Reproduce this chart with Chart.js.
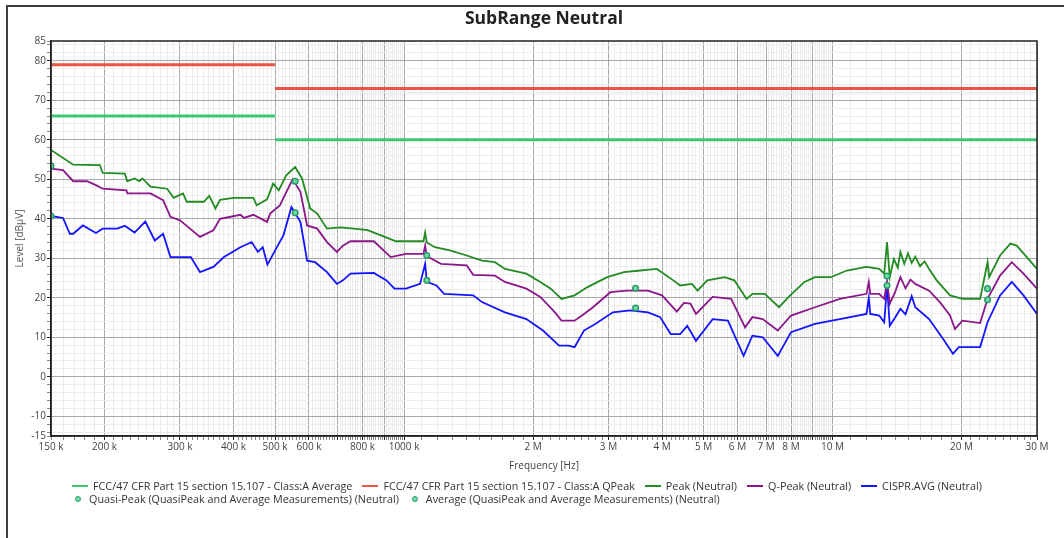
<!DOCTYPE html>
<html>
<head>
<meta charset="utf-8">
<title>SubRange Neutral</title>
<script src="https://cdn.jsdelivr.net/npm/chart.js@4.4.1/dist/chart.umd.min.js"></script>
<style>
  html, body { margin: 0; padding: 0; background: #fff; }
  body { width: 1064px; height: 538px; position: relative; overflow: hidden; font-family: 'Open Sans', sans-serif; }
  #frame { position: absolute; left: 6px; top: 5px; width: 1080px; height: 560px; border-top: 2px solid #3c3c3c; border-left: 2px solid #3c3c3c; }
  #chart { position: absolute; left: 0; top: 0; }
  #legend { position: absolute; left: 72px; top: 479px; width: 960px; display: flex; flex-wrap: wrap; font-size: 10.8px; color: #333; line-height: 13px; }
  .item { display: flex; align-items: center; margin-right: 10px; white-space: nowrap; }
  .swatch { width: 16px; height: 2px; margin-right: 5px; }
  .dot { width: 4px; height: 4px; border-radius: 50%; margin: 0 8px 0 3px; border: 1.5px solid; }
</style>
</head>
<body>
<div id="frame"></div>
<canvas id="chart" width="1064" height="538"></canvas>
<div id="legend"></div>
<script>
// frequencies in kHz, levels in dBµV
const limitAvgFreq = [150, 500, 500, 500, 30000];
const limitAvgLevel = [66, 66, null, 60, 60];
const limitQpFreq = [150, 500, 500, 500, 30000];
const limitQpLevel = [79, 79, null, 73, 73];

const peakFreq = [150,169,195,198,223,226,235,241,245,256,280,290,305,311,341,351,363,372,400,445,453,479,495,510,531,557,578,604,627,661,708,763,822,893,957,1110,1120,1130,1180,1280,1400,1520,1630,1720,1930,2080,2200,2330,2500,2680,2980,3260,3560,3890,4250,4410,4700,4840,5100,5600,5900,6300,6500,6950,7500,7900,8600,9100,9900,10800,12000,12850,13200,13400,13600,13900,14200,14400,14700,15000,15300,15600,16000,16400,16800,17500,18800,20100,22100,23000,23200,24600,26000,26900,28400,30000];
const peakLevel = [57.4,53.7,53.6,51.6,51.4,49.5,50.2,49.5,50.2,48.1,47.6,45.3,46.4,44.3,44.3,45.8,42.6,44.8,45.3,45.3,43.4,44.9,48.9,47.2,51.0,53.1,50.2,42.6,41.3,37.5,37.8,37.5,37.1,35.6,34.3,34.3,36.5,34.0,32.8,32.0,30.7,29.4,29.0,27.3,26.1,24.0,22.3,19.7,20.6,22.7,25.2,26.5,26.9,27.3,24.4,23.1,23.5,21.8,24.4,25.2,24.4,19.7,21.0,21.0,17.6,20.2,24.0,25.2,25.2,26.9,27.8,27.3,26.1,34.1,25.2,29.8,27.6,31.6,28.6,31.2,28.8,30.4,28.0,29.2,27.3,24.4,20.6,19.7,19.7,29.0,25.2,30.7,33.7,33.2,30.3,27.3];

const qpFreq = [150,160,169,182,191,198,225,226,256,274,285,300,311,334,359,372,415,423,445,479,487,513,541,550,573,594,627,661,697,720,750,850,931,1010,1110,1120,1130,1220,1400,1450,1630,1720,1930,2080,2250,2330,2500,2630,2760,3030,3310,3710,4000,4330,4500,4660,4800,5250,5800,6250,6500,6870,7450,8000,9100,10400,12000,12150,12250,12850,13200,13400,13600,14000,14400,14800,15200,15600,16800,17800,18800,19300,20100,22100,23000,24600,26200,27900,30000];
const qpLevel = [52.7,52.3,49.5,49.5,48.5,47.6,47.2,46.4,46.4,44.7,40.5,39.6,38.2,35.4,37.1,40.0,41.0,40.2,41.0,39.2,41.3,43.4,48.5,50.0,46.8,38.3,37.5,34.1,31.6,33.2,34.3,34.3,30.3,31.1,31.1,33.2,30.5,28.6,28.2,25.8,25.6,24.0,22.3,20.2,16.3,14.2,14.2,15.9,17.6,21.4,21.8,21.8,20.6,16.5,18.7,18.5,15.9,20.2,19.7,12.5,15.1,14.6,11.7,15.5,17.6,19.7,21.0,24.0,21.0,21.0,19.7,24.2,18.5,21.5,25.2,22.4,24.6,23.5,21.8,18.9,15.5,12.1,14.2,13.6,19.7,25.6,29.0,26.1,22.3];

const avgFreq = [150,160,166,169,178,191,198,214,223,235,249,262,274,285,318,334,359,380,415,441,456,468,480,505,523,546,573,594,620,661,697,720,750,850,910,950,1010,1090,1120,1130,1190,1240,1450,1520,1720,1930,2110,2300,2420,2500,2630,2800,3070,3370,3710,3960,4190,4410,4580,4800,5250,5700,6200,6500,6870,7450,8000,9100,10400,12000,12150,12250,12850,13200,13400,13600,14000,14400,14800,15300,15600,16800,18100,19100,19700,20800,22100,23000,24600,26200,27900,30000];
const avgLevel = [40.7,40.2,36.2,36.2,38.3,36.4,37.5,37.5,38.2,36.5,39.3,34.5,36.2,30.3,30.3,26.5,27.8,30.3,32.8,34.1,31.6,32.8,28.4,32.8,35.8,43.0,39.2,29.4,29.0,26.5,23.5,24.4,26.1,26.3,24.4,22.3,22.3,23.5,28.6,24.0,23.1,21.0,20.6,18.9,16.3,14.6,11.7,7.9,7.9,7.5,11.7,13.4,16.3,16.8,16.3,15.1,10.8,10.8,12.9,9.1,14.6,14.2,5.3,10.4,10.0,5.3,11.3,13.4,14.6,15.9,20.0,15.9,15.5,13.8,23.1,12.9,15.0,17.2,15.8,20.4,17.6,14.6,9.6,5.8,7.5,7.5,7.5,13.8,20.6,24.0,20.6,15.9];

// final measurements
const measFreq = [150, 557, 1130, 3470, 13400, 23000];
const measQpLevel = [53.4, 49.5, 30.7, 22.4, 25.5, 22.3];
const measAvgLevel = [40.7, 41.5, 24.4, 17.4, 23.1, 19.5];

// axis ticks
const xLabelValues = [150,200,300,400,500,600,800,1000,2000,3000,4000,5000,6000,7000,8000,10000,20000,30000];
const yLabelValues = [85,80,70,60,50,40,30,20,10,0,-10,-15];

const xTickValues = [];
for (let v = 150; v < 1000; v += 10) xTickValues.push(v);
for (let v = 1000; v < 10000; v += 100) xTickValues.push(v);
for (let v = 10000; v <= 30000; v += 1000) xTickValues.push(v);
const yTickValues = [-15];
for (let v = -14; v <= 84; v += 2) yTickValues.push(v);
yTickValues.push(85);

const isMajorX = v => v < 1000 ? v % 100 === 0 : (v < 10000 ? v % 1000 === 0 : v % 10000 === 0);
const fmtFreq = v => v <= 1000 ? v + ' k' : (v / 1000) + ' M';
const pts = (xs, ys) => xs.map((x, i) => ({x: x, y: ys[i]}));

Chart.defaults.font.family = "'Open Sans', sans-serif";
Chart.defaults.font.size = 10;
Chart.defaults.color = '#444';

const plotBorder = {
  id: 'plotBorder',
  afterDatasetsDraw(chart) {
    const {ctx, chartArea: a} = chart;
    ctx.save();
    ctx.strokeStyle = '#222';
    ctx.lineWidth = 1.5;
    ctx.strokeRect(a.left, a.top, a.right - a.left, a.bottom - a.top);
    ctx.restore();
  }
};

const lineSet = (label, xs, ys, color, width, order) => ({
  label: label, data: pts(xs, ys), borderColor: color, backgroundColor: color,
  borderWidth: width, pointRadius: 0, tension: 0, order: order
});
const markSet = (label, xs, ys) => ({
  label: label, data: pts(xs, ys), showLine: false, pointStyle: 'circle',
  pointRadius: 2.8, pointBorderWidth: 1.5, borderColor: '#2c9a6c', backgroundColor: '#6fdca0', order: 0
});

const chart = new Chart(document.getElementById('chart'), {
  type: 'line',
  data: {
    datasets: [
      lineSet('FCC/47 CFR Part 15 section 15.107 - Class:A Average', limitAvgFreq, limitAvgLevel, '#3cc873', 3, 2),
      lineSet('FCC/47 CFR Part 15 section 15.107 - Class:A QPeak', limitQpFreq, limitQpLevel, '#ec5545', 3, 2),
      lineSet('Peak (Neutral)', peakFreq, peakLevel, '#228b22', 1.8, 1),
      lineSet('Q-Peak (Neutral)', qpFreq, qpLevel, '#8b178b', 1.8, 1),
      lineSet('CISPR.AVG (Neutral)', avgFreq, avgLevel, '#1414ff', 1.8, 1),
      markSet('Quasi-Peak (QuasiPeak and Average Measurements) (Neutral)', measFreq, measQpLevel),
      markSet('Average (QuasiPeak and Average Measurements) (Neutral)', measFreq, measAvgLevel)
    ]
  },
  options: {
    responsive: false,
    animation: false,
    devicePixelRatio: 1,
    layout: { padding: { left: 0, right: 27, top: 0, bottom: 62 } },
    plugins: {
      legend: { display: false },
      tooltip: { enabled: false },
      title: {
        display: true, text: 'SubRange Neutral', fullSize: false, color: '#222',
        font: { size: 17.5, weight: 'bold' }, padding: { top: 9, bottom: 11 }
      }
    },
    scales: {
      x: {
        type: 'logarithmic', min: 150, max: 30000,
        afterBuildTicks: s => { s.ticks = xTickValues.map(v => ({value: v})); },
        afterFit: s => { s.height = 40; },
        ticks: { autoSkip: false, maxRotation: 0, padding: 1, callback: v => xLabelValues.includes(v) ? fmtFreq(v) : '' },
        grid: {
          color: c => isMajorX(c.tick.value) ? '#a8a8a8' : '#ececec',
          tickColor: c => isMajorX(c.tick.value) ? '#222' : '#888', tickLength: 4
        },
        border: { color: '#222', width: 1.5 },
        title: { display: true, text: 'Frequency [Hz]', color: '#444', padding: { top: 0, bottom: 4 } }
      },
      y: {
        min: -15, max: 85,
        afterBuildTicks: s => { s.ticks = yTickValues.map(v => ({value: v})); },
        afterFit: s => { s.width = 51; },
        ticks: { autoSkip: false, padding: 1, callback: v => yLabelValues.includes(v) ? String(v) : '' },
        grid: {
          color: c => c.tick.value % 10 === 0 ? '#a8a8a8' : '#ececec',
          tickColor: c => c.tick.value % 10 === 0 ? '#222' : '#888', tickLength: 4
        },
        border: { color: '#222', width: 1.5 },
        title: { display: true, text: 'Level [dBµV]', color: '#555', padding: { top: 14 } }
      }
    }
  },
  plugins: [plotBorder]
});

// legend
const legend = document.getElementById('legend');
chart.data.datasets.forEach(ds => {
  const item = document.createElement('div');
  item.className = 'item';
  const sw = document.createElement('span');
  if (ds.showLine === false) {
    sw.className = 'dot';
    sw.style.background = ds.backgroundColor;
    sw.style.borderColor = ds.borderColor;
  } else {
    sw.className = 'swatch';
    sw.style.background = ds.borderColor;
  }
  item.appendChild(sw);
  item.appendChild(document.createTextNode(ds.label));
  legend.appendChild(item);
});
</script>
</body>
</html>
